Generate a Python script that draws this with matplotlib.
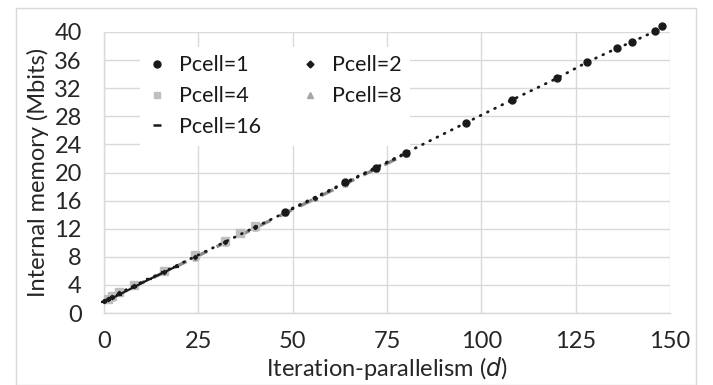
import matplotlib
matplotlib.use("Agg")
import matplotlib.pyplot as plt
from matplotlib.patches import Rectangle
from matplotlib.lines import Line2D

plt.rcParams['font.family'] = ['Lato', 'DejaVu Sans']

# Data
d_p1 = [48, 64, 72, 80, 96, 108, 120, 128, 136, 140, 146, 148]
m_p1 = [14.4, 18.6, 20.7, 22.8, 27.1, 30.3, 33.4, 35.7, 37.7, 38.6, 40.1, 40.9]

d_p2 = [0, 1, 2, 4, 8, 16, 24, 32, 40, 48, 56, 64, 72, 80]
m_p2 = [1.7, 2.0, 2.3, 2.8, 3.9, 5.9, 8.0, 10.1, 12.2, 14.3, 16.4, 18.5, 20.6, 22.7]

d_p4 = [1, 2, 4, 8, 16, 24, 32, 36, 40]
m_p4 = [2.0, 2.4, 3.0, 4.0, 6.0, 8.2, 10.2, 11.4, 12.4]

d_p8 = [2, 4, 8, 16, 24, 32, 40, 48, 56, 64, 72, 80]
m_p8 = [2.2, 2.8, 3.8, 5.8, 7.9, 10.0, 12.1, 14.2, 16.3, 18.4, 20.5, 22.6]

d_p16 = [0, 1, 2, 4, 8, 12, 16, 19]
m_p16 = [1.6, 1.9, 2.1, 2.6, 3.7, 4.8, 5.8, 6.6]

xticks = [0, 25, 50, 75, 100, 125, 150]
yticks = [0, 4, 8, 12, 16, 20, 24, 28, 32, 36, 40]

W, H = 713, 385
fig = plt.figure(figsize=(W / 100, H / 100), dpi=100)
fig.patches.append(Rectangle((16 / W, 0), (696 - 16) / W, (H - 8) / H,
                             transform=fig.transFigure, fill=False,
                             edgecolor='#d9d9d9', linewidth=1.0))
ax = fig.add_axes([104 / W, (H - 313) / H, (670 - 104) / W, (313 - 32) / H])

txt = '#262626'
dots = (0, (0.3, 2.6))
ax.plot(d_p8, m_p8, color='#8c8c8c', linestyle=(0, (4, 3)), linewidth=2.4,
        marker='^', markersize=3.5, markerfacecolor='#a6a6a6', markeredgecolor='#a6a6a6',
        label='Pcell=8', clip_on=False, zorder=3)
ax.plot(d_p4, m_p4, color='#bfbfbf', linestyle='none', marker='s', markersize=5.5,
        markeredgecolor='#bfbfbf', label='Pcell=4', clip_on=False, zorder=3)
ax.plot(d_p16, m_p16, color='#1a1a1a', linestyle='-', linewidth=1.6,
        marker='_', markersize=5, markeredgewidth=1.6, label='Pcell=16', clip_on=False, zorder=4)
ax.plot(d_p2, m_p2, color='#1a1a1a', linestyle=dots, linewidth=2.0,
        dash_capstyle='round', marker='D', markersize=2.2, label='Pcell=2', clip_on=False, zorder=4)
ax.plot(d_p1, m_p1, color='#1a1a1a', linestyle=dots, linewidth=2.0,
        dash_capstyle='round', marker='o', markersize=5, label='Pcell=1', clip_on=False, zorder=5)

ax.set_xlim(0, 150)
ax.set_ylim(0, 40)
ax.set_xticks(xticks)
ax.set_yticks(yticks)
ax.grid(True, color='#d9d9d9', linewidth=1.0)
ax.set_axisbelow(True)
for s in ['top', 'right']:
    ax.spines[s].set_visible(False)
for s in ['left', 'bottom']:
    ax.spines[s].set_color('#d9d9d9')
    ax.spines[s].set_linewidth(1.0)
ax.tick_params(axis='both', length=0, labelsize=17, colors=txt)
ax.tick_params(axis='x', pad=13)
ax.tick_params(axis='y', pad=16)
ax.set_xlabel('Iteration-parallelism ($d$)', fontsize=17, color=txt, labelpad=2)
ax.set_ylabel('Internal memory (Mbits)', fontsize=17, color=txt, labelpad=4)

leg_handles = [
    Line2D([], [], linestyle='none', marker='o', markersize=5, color='#1a1a1a'),
    Line2D([], [], linestyle='none', marker='D', markersize=3.5, color='#1a1a1a'),
    Line2D([], [], linestyle='none', marker='s', markersize=5, color='#bfbfbf'),
    Line2D([], [], linestyle='none', marker='^', markersize=4, color='#a6a6a6'),
    Line2D([], [], linestyle='none', marker='_', markersize=6, markeredgewidth=1.8, color='#1a1a1a'),
]
lh = [leg_handles[0], leg_handles[2], leg_handles[4], leg_handles[1], leg_handles[3]]
ll = ['Pcell=1', 'Pcell=4', 'Pcell=16', 'Pcell=2', 'Pcell=8']
leg = ax.legend(lh, ll, ncol=2, loc='upper left', bbox_to_anchor=(25 / 566, 1 - 4 / 281),
                frameon=True, fancybox=False, edgecolor='none', facecolor='white', framealpha=1,
                fontsize=15.5, handlelength=0.8, handletextpad=0.6, columnspacing=1.9,
                labelspacing=0.5, borderpad=0.4)
leg.set_zorder(2.5)
for t in leg.get_texts():
    t.set_color('#1a1a1a')

fig.savefig('out.png', dpi=100)
